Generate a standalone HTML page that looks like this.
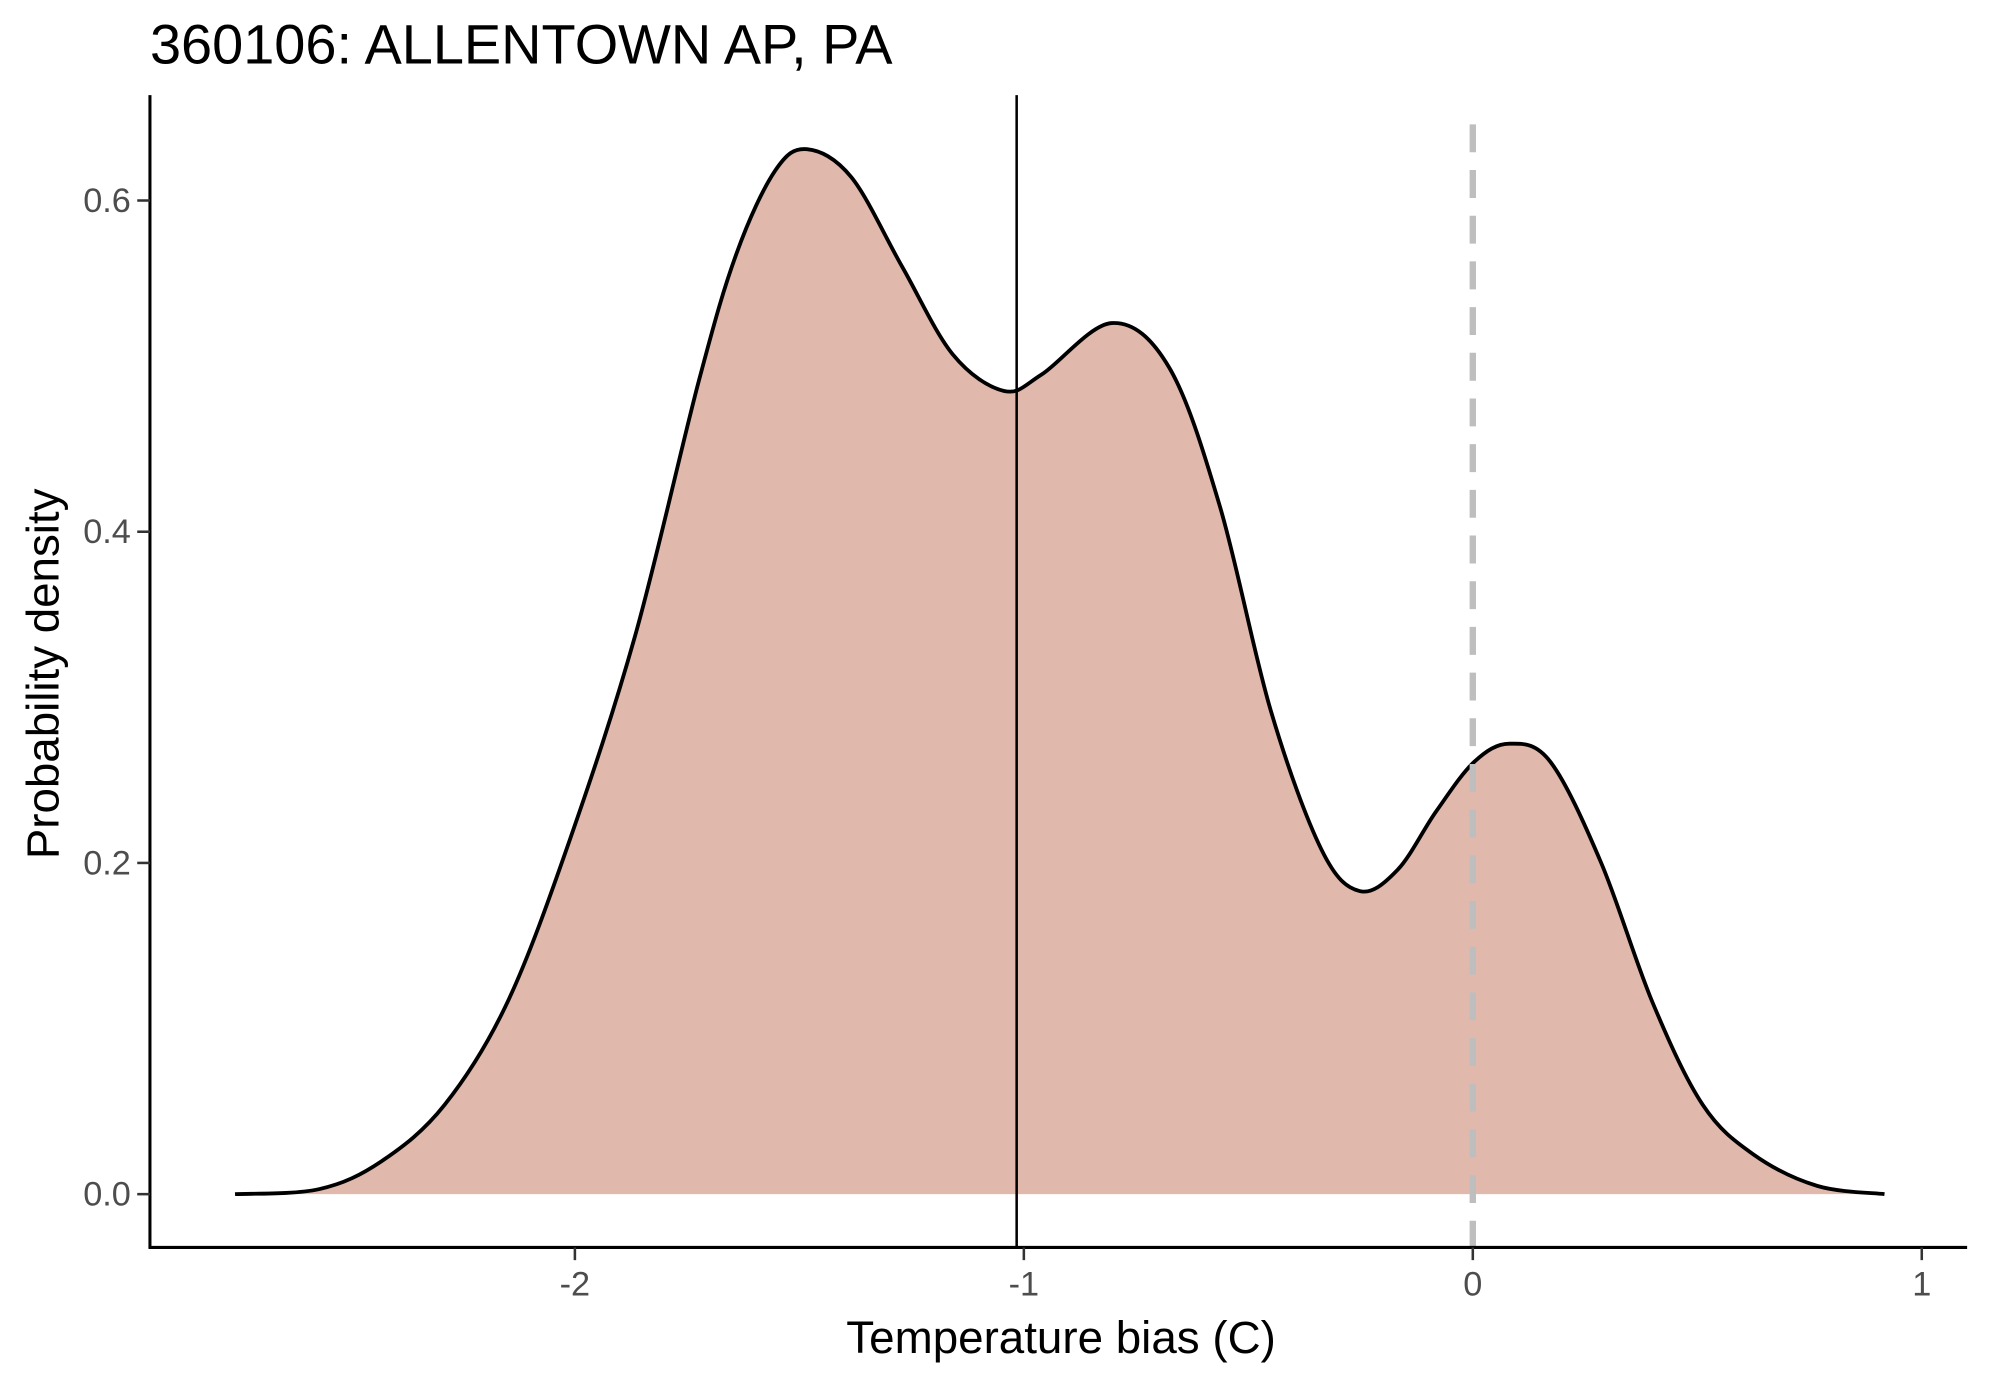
<!DOCTYPE html>
<html><head><meta charset="utf-8"><style>
html,body{margin:0;padding:0;background:#fff;width:1990px;height:1384px;overflow:hidden}
svg{display:block;font-family:"Liberation Sans",sans-serif}
</style></head><body>
<svg id="chart" width="1990" height="1384" viewBox="0 0 1566 1090.6" preserveAspectRatio="none">
<text x="118" y="50" font-size="44" fill="#000">360106: ALLENTOWN AP, PA</text>
<g id="plot"></g>
<text x="835" y="1066" font-size="36" text-anchor="middle" fill="#000">Temperature bias (C)</text>
<text transform="translate(46,531) rotate(-90)" font-size="36" text-anchor="middle" fill="#000">Probability density</text>
</svg>
<script>
const xs=[-2.757,-2.57,-2.43,-2.29,-2.15,-2.01,-1.865,-1.724,-1.64,-1.554,-1.483,-1.384,-1.271,-1.158,-1.044,-0.96,-0.804,-0.676,-0.563,-0.45,-0.337,-0.252,-0.167,-0.082,0.003,0.082,0.173,0.286,0.4,0.512,0.625,0.767,0.917];
const ys=[0,0.003,0.02,0.054,0.116,0.215,0.338,0.491,0.568,0.618,0.631,0.614,0.56,0.507,0.485,0.495,0.526,0.499,0.415,0.292,0.208,0.183,0.196,0.231,0.261,0.272,0.261,0.2,0.116,0.054,0.024,0.005,0];
const xTicks=[-2,-1,0,1];
const yTicks=[0,0.2,0.4,0.6];
const meanBias=-1.016;
const refLine=0;
const NS='http://www.w3.org/2000/svg';
const X=v=>1159+v*353.3, Y=v=>941-v*1305;
const g=document.getElementById('plot');
function mk(t,a){const e=document.createElementNS(NS,t);for(const k in a)e.setAttribute(k,a[k]);g.appendChild(e);return e;}
const pts=xs.map((x,i)=>[X(x),Y(ys[i])]);
let d='M'+pts[0][0]+','+pts[0][1];
for(let i=0;i<pts.length-1;i++){const p0=pts[i-1]||pts[i],p1=pts[i],p2=pts[i+1],p3=pts[i+2]||p2;
d+=` C${p1[0]+(p2[0]-p0[0])/6},${p1[1]+(p2[1]-p0[1])/6} ${p2[0]-(p3[0]-p1[0])/6},${p2[1]-(p3[1]-p1[1])/6} ${p2[0]},${p2[1]}`;}
const area=mk('path',{d:d+` L${pts[pts.length-1][0]},${Y(0)} L${pts[0][0]},${Y(0)} Z`,fill:'#e0b8ac',stroke:'none'});


const line=mk('path',{d:d,fill:'none',stroke:'#000','stroke-width':3,'stroke-linejoin':'round'});


const ml=mk('line',{x1:X(meanBias),x2:X(meanBias),y1:75,y2:983,stroke:'#000','stroke-width':2});


const zl=mk('line',{x1:X(refLine),x2:X(refLine),y1:98,y2:983,stroke:'#bebebe','stroke-width':5,'stroke-dasharray':'22 14'});


const ya=mk('line',{x1:118,x2:118,y1:75,y2:984,stroke:'#000','stroke-width':2.4});


const xa=mk('line',{x1:117,x2:1548,y1:983,y2:983,stroke:'#000','stroke-width':2.4});


xTicks.forEach(v=>{const t=mk('line',{x1:X(v),x2:X(v),y1:983,y2:993,stroke:'#333','stroke-width':2});


const l=mk('text',{x:X(v),y:1021,'font-size':27,'text-anchor':'middle',fill:'#4d4d4d'});l.textContent=v;

});
yTicks.forEach(v=>{const t=mk('line',{x1:108,x2:118,y1:Y(v),y2:Y(v),stroke:'#333','stroke-width':2});


const l=mk('text',{x:103,y:Y(v)+9,'font-size':27,'text-anchor':'end',fill:'#4d4d4d'});l.textContent=v.toFixed(1);

});
</script>
</body></html>
